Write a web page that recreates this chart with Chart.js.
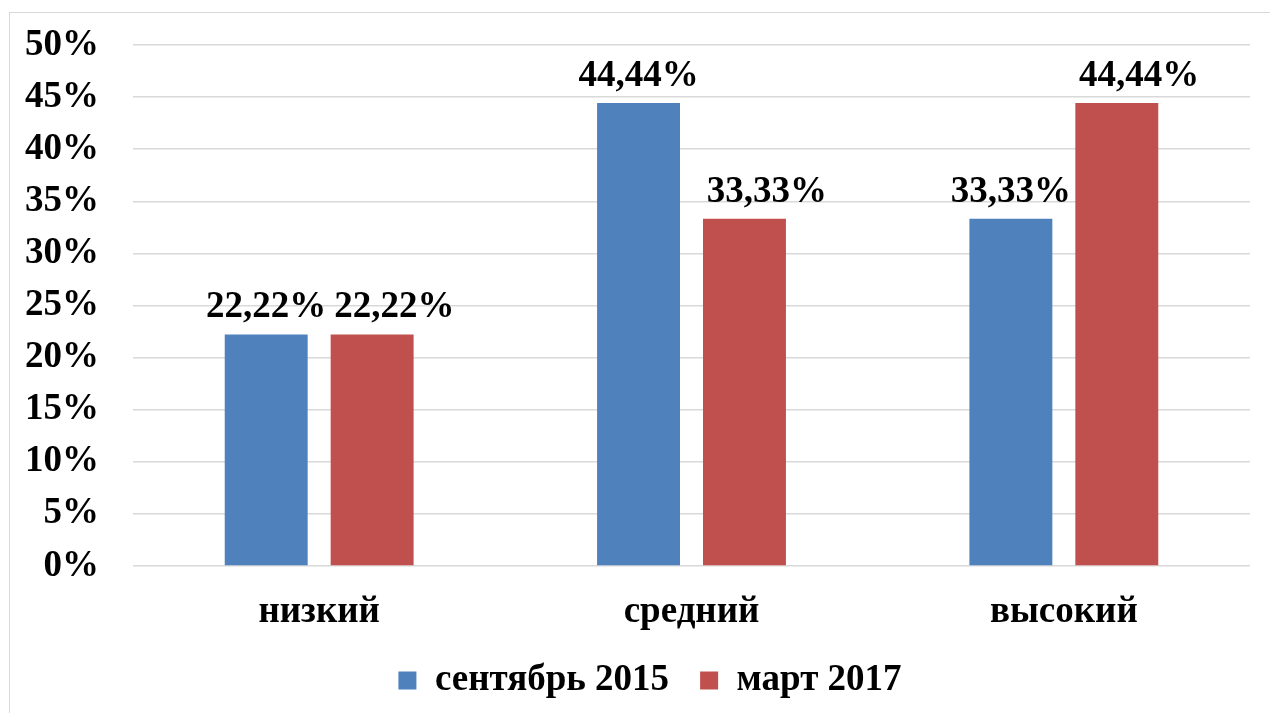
<!DOCTYPE html>
<html>
<head>
<meta charset="utf-8">
<script src="https://cdn.jsdelivr.net/npm/chart.js@4/dist/chart.umd.min.js"></script>
<style>
    body { margin: 0; background: #fff; }
    #frame {
        position: absolute; left: 9px; top: 12px;
        width: 1300px; height: 760px;
        border: 1.5px solid #d9d9d9;
    }
    #wrap { position: absolute; left: 0; top: 0; width: 1270px; height: 713px; }
</style>
</head>
<body>
<div id="frame"></div>
<div id="wrap"><canvas id="levelsChart"></canvas></div>
<script>
// Data
const categories = ['низкий', 'средний', 'высокий'];
const sep2015 = [22.22, 44.44, 33.33];
const mar2017 = [22.22, 33.33, 44.44];
const yTicks = [0, 5, 10, 15, 20, 25, 30, 35, 40, 45, 50];

const FONT = '"Liberation Serif", "Times New Roman", serif';

function fmt(v) {
    return v.toFixed(2).replace('.', ',') + '%';
}

// Value labels above bars, pushed apart when two overlap
const barLabels = {
    id: 'barLabels',
    afterDatasetsDraw(chart) {
        const ctx = chart.ctx;
        ctx.save();
        ctx.font = 'bold 37px ' + FONT;
        ctx.fillStyle = '#000';
        ctx.textAlign = 'left';
        ctx.textBaseline = 'alphabetic';
        categories.forEach((c, i) => {
            let prevRight = -Infinity;
            chart.data.datasets.forEach((ds, d) => {
                const bar = chart.getDatasetMeta(d).data[i];
                const text = fmt(ds.data[i]);
                const w = ctx.measureText(text).width;
                let x = bar.x - w / 2;
                if (x < prevRight + 8) x = prevRight + 8;
                ctx.fillText(text, x, bar.y - 17);
                prevRight = x + w;
            });
        });
        ctx.restore();
    }
};

// Center the legend under the plot area rather than the whole canvas
const legendShift = {
    id: 'legendShift',
    beforeDraw(chart) {
        if (chart.legend) chart.legend.left = 50;
    }
};

document.addEventListener('DOMContentLoaded', function() {
    const ctx = document.getElementById('levelsChart');
    new Chart(ctx, {
        type: 'bar',
        data: {
            labels: categories,
            datasets: [{
                label: 'сентябрь 2015',
                data: sep2015,
                backgroundColor: '#4f81bd',
                categoryPercentage: 0.569,
                barPercentage: 0.783
            }, {
                label: 'март 2017',
                data: mar2017,
                backgroundColor: '#c0504d',
                categoryPercentage: 0.569,
                barPercentage: 0.783
            }]
        },
        options: {
            responsive: true,
            maintainAspectRatio: false,
            animation: false,
            layout: {
                padding: { left: 0, right: 20, top: 45, bottom: 4 }
            },
            plugins: {
                legend: {
                    position: 'bottom',
                    labels: {
                        boxWidth: 18,
                        boxHeight: 18,
                        padding: 31,
                        color: '#000',
                        font: { family: FONT, size: 37, weight: 'bold' }
                    }
                },
                tooltip: { enabled: false }
            },
            scales: {
                x: {
                    grid: { display: false },
                    border: { display: false },
                    ticks: {
                        color: '#000',
                        padding: 16,
                        font: { family: FONT, size: 37, weight: 'bold' }
                    },
                    afterFit: (s) => { s.height = 65; }
                },
                y: {
                    min: 0,
                    max: 50,
                    afterBuildTicks: (s) => { s.ticks = yTicks.map(v => ({ value: v })); },
                    grid: { color: '#d9d9d9', lineWidth: 1.5, drawTicks: false },
                    border: { display: false },
                    ticks: {
                        color: '#000',
                        padding: 34,
                        font: { family: FONT, size: 37, weight: 'bold' },
                        callback: (v) => v + '%'
                    },
                    afterFit: (s) => {
                        s.width = 133;
                        s.paddingTop = 0;
                        s.paddingBottom = 0;
                    }
                }
            }
        },
        plugins: [barLabels, legendShift]
    });
});
</script>
</body>
</html>
